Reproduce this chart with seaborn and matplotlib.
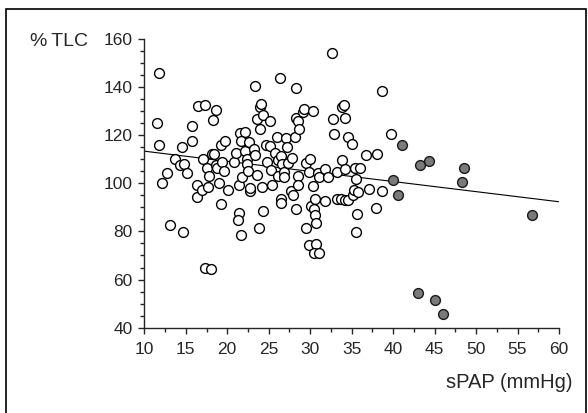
import matplotlib
matplotlib.use("Agg")
import matplotlib.pyplot as plt
from matplotlib.patches import Rectangle
from matplotlib.ticker import MultipleLocator
import seaborn as sns
import pandas as pd

# open circles: sPAP (mmHg), %TLC
open_x = [11.8, 11.5, 11.8, 12.1, 12.75, 13.1, 13.65, 14.3, 14.6, 14.8, 15.1, 14.65,
          15.7, 15.8, 16.45, 17.35, 18.3, 18.7, 17.1, 17.6, 17.8, 18.2, 18.4, 18.6,
          18.8, 16.4, 16.4, 16.9, 17.7, 19.25, 19.7, 19.4, 19.55, 18.95, 20.1, 19.2,
          17.3, 18.1, 20.8, 21.1, 21.5, 22.1, 21.6, 22.2, 22.4, 22.4, 22.6, 21.4,
          21.8, 22.5, 22.7, 22.8, 21.4, 21.35, 21.7, 23.2, 23.3, 23.3, 23.6, 23.6,
          23.9, 24.1, 24.3, 24.0, 24.2, 24.35, 23.8, 24.7, 24.85, 25.2, 25.2, 25.25,
          25.4, 25.8, 26.0, 26.1, 26.15, 26.4, 26.5, 26.65, 26.5, 26.5, 26.8, 26.8,
          27.1, 27.2, 27.3, 27.8, 27.7, 27.9, 28.2, 28.3, 28.3, 28.55, 28.7, 28.55,
          28.5, 28.3, 29.1, 29.3, 29.5, 29.8, 30.0, 30.4, 30.4, 30.1, 30.45, 30.6,
          30.6, 30.7, 29.5, 29.9, 30.7, 30.5, 31.1, 30.9, 31.1, 31.8, 31.75, 32.2,
          32.65, 32.8, 32.9, 33.2, 33.2, 33.7, 33.8, 33.8, 34.1, 34.2, 34.2, 34.15,
          34.5, 34.6, 35.1, 35.2, 35.45, 35.5, 35.3, 35.8, 35.95, 35.7, 35.5, 36.7,
          37.1, 37.9, 38.1, 38.7, 38.7, 39.8]
open_y = [145.6, 125.2, 115.8, 100.0, 104.3, 82.6, 110.1, 107.5, 115.2, 107.9, 104.1, 79.8,
          123.9, 117.7, 132.1, 132.5, 126.1, 130.4, 110.1, 106.2, 102.9, 112.3, 112.3, 107.5,
          106.4, 99.3, 94.2, 97.0, 98.6, 115.8, 117.6, 109.0, 105.2, 100.0, 97.1, 91.4,
          64.7, 64.2, 109.0, 112.6, 120.9, 121.2, 117.4, 113.3, 110.2, 107.9, 117.0, 99.4,
          102.5, 105.0, 96.7, 98.1, 87.7, 84.7, 78.4, 114.0, 111.9, 140.2, 103.5, 126.8,
          131.5, 132.8, 128.2, 122.4, 98.3, 88.4, 81.2, 115.8, 108.7, 125.7, 115.3, 105.4,
          99.4, 112.6, 119.1, 109.8, 102.9, 143.5, 111.2, 108.0, 93.5, 91.8, 104.6, 102.5,
          118.9, 115.1, 108.2, 110.5, 96.7, 95.3, 119.1, 139.7, 127.1, 126.0, 122.3, 102.9,
          99.4, 89.4, 129.4, 131.0, 108.4, 104.7, 110.2, 129.9, 99.0, 90.5, 89.4, 93.6,
          87.0, 83.3, 81.3, 74.3, 74.6, 71.1, 71.1, 104.4, 102.5, 105.9, 92.7, 102.6,
          154.1, 126.8, 120.5, 104.8, 93.6, 93.6, 109.5, 131.7, 132.4, 127.0, 105.9, 93.2,
          119.1, 93.1, 116.4, 95.0, 106.4, 101.8, 97.0, 96.4, 106.4, 87.4, 79.8, 111.6,
          97.6, 89.5, 112.0, 138.4, 96.7, 120.5]

# grey filled circles
fill_x = [41.1, 40.0, 40.6, 43.3, 44.35, 48.5, 48.3, 56.7, 43.0, 45.1, 46.0]
fill_y = [115.8, 101.5, 95.3, 107.5, 109.1, 106.2, 100.7, 86.7, 54.4, 51.6, 45.5]

# regression line
line_x = [10, 60]
line_y = [113.3, 92.3]

x_ticks = [10, 15, 20, 25, 30, 35, 40, 45, 50, 55, 60]
y_ticks = [40, 60, 80, 100, 120, 140, 160]

sns.set_style("ticks")
plt.rcParams['font.family'] = ['Liberation Sans', 'DejaVu Sans']

df_open = pd.DataFrame({'sPAP': open_x, 'TLC': open_y})
df_fill = pd.DataFrame({'sPAP': fill_x, 'TLC': fill_y})
df_line = pd.DataFrame({'sPAP': line_x, 'TLC': line_y})

fig = plt.figure(figsize=(5.88, 4.13), dpi=100)
ax = fig.add_axes([0.2454, 0.2065, 0.7053, 0.6998])

sns.lineplot(data=df_line, x='sPAP', y='TLC', ax=ax, color='black', linewidth=0.8)
sns.scatterplot(data=df_open, x='sPAP', y='TLC', ax=ax, s=50, facecolor='white',
                edgecolor='black', linewidth=1.0, clip_on=False, zorder=3)
sns.scatterplot(data=df_fill, x='sPAP', y='TLC', ax=ax, s=50, facecolor='#7a7a7a',
                edgecolor='#1a1a1a', linewidth=1.0, clip_on=False, zorder=3)

ax.set_xlim(10, 60)
ax.set_ylim(40, 160)
ax.set_xticks(x_ticks)
ax.set_yticks(y_ticks)
ax.xaxis.set_minor_locator(MultipleLocator(2.5))
ax.yaxis.set_minor_locator(MultipleLocator(5))
ax.tick_params(which='major', direction='out', length=4.5, width=1.0, labelsize=12.5)
ax.tick_params(axis='x', which='major', pad=6)
ax.tick_params(axis='y', which='major', pad=4)
ax.tick_params(which='minor', direction='out', length=2.8, width=1.0)
ax.set_xlabel('')
ax.set_ylabel('')
sns.despine(ax=ax)
for side in ['left', 'bottom']:
    ax.spines[side].set_linewidth(1.0)

fig.text(30 / 588, 1 - 42 / 413, '%\u2009TLC', fontsize=14, ha='left', va='center')
fig.text(573 / 588, 1 - 383 / 413, 'sPAP (mmHg)', fontsize=14.5, ha='right', va='center')

fig.patches.append(Rectangle((5.6 / 588, -0.1), (585.7 - 5.6) / 588, 1.1 - 9.3 / 413,
                             transform=fig.transFigure, fill=False, edgecolor='black',
                             linewidth=1.2))

fig.savefig('out.png', dpi=100)
